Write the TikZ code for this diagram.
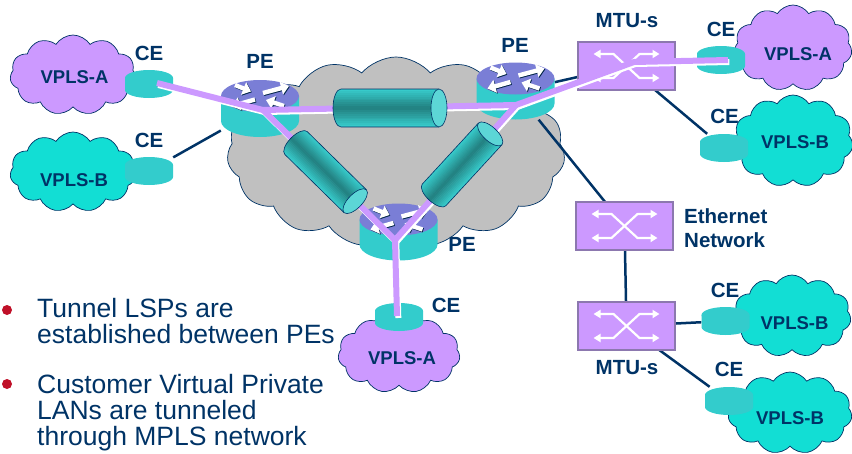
\documentclass[tikz,border=0pt]{standalone}
\usepackage{fontspec}
\setmainfont{Liberation Sans}
\usetikzlibrary{shapes.symbols,arrows.meta}

\definecolor{navy}{RGB}{0,51,102}
\definecolor{vplsA}{RGB}{204,153,255}
\definecolor{vplsB}{RGB}{18,222,212}
\definecolor{ceCyan}{RGB}{51,204,204}
\definecolor{peTop}{RGB}{122,126,214}
\definecolor{coreGray}{RGB}{192,192,192}
\definecolor{tunDark}{RGB}{34,128,128}
\definecolor{tunLight}{RGB}{56,206,206}
\definecolor{tunEnd}{RGB}{92,214,214}
\definecolor{swEdge}{RGB}{140,120,175}
\definecolor{bulletRed}{RGB}{192,16,40}

% flat cylinder used for customer edge devices
\newcommand\cedisk[1]{%
  \begin{scope}[shift={(#1.center)}]
    \fill[ceCyan] (-24,-6) -- (-24,6) arc (180:0:24 and 8) -- (24,-6) -- cycle;
    \fill[ceCyan] (0,-6) ellipse (24 and 8);
  \end{scope}}

% provider edge router: cylinder with four arrows on top
\newcommand\pedisk[1]{%
  \begin{scope}[shift={(#1.center)}]
    \fill[ceCyan] (-39,-12.5) -- (-39,12.5) arc (180:0:39 and 16) -- (39,-12.5) -- cycle;
    \fill[peTop] (0,-12.5) ellipse (39 and 16);
    \begin{scope}[shift={(0,-12.5)}]
      \foreach \s in {rtshadow,rtarrow}{
        \draw[\s] (-25,-11) -- (-9,-4.5);
        \draw[\s] (3,-3) -- (29,-10);
        \draw[\s] (-5,3.5) -- (-28,10);
        \draw[\s] (24,10) -- (6,4);
      }
    \end{scope}
  \end{scope}}

% crossing arrows of an Ethernet switch
\newcommand\swicon[1]{%
  \begin{scope}[shift={(#1.center)}]
    \draw[swarrow] (-33,-12) -- (-13,-12) -- (13,12) -- (33,12);
    \draw[swarrow] (-33,12) -- (-13,12) -- (13,-12) -- (33,-12);
  \end{scope}}

% LSP tunnel along the local x axis: #1 length, #2 radius, #3 end half-width
\newcommand\tunnel[3]{%
  \begin{scope}
    \clip (0,-#2) -- (#1,-#2) -- (#1,#2) -- (0,#2) arc (90:270:#3 and #2) -- cycle;
    \foreach \k in {0,...,19}{
      \pgfmathtruncatemacro\mixv{abs((\k+0.5)/10-1)*100}
      \fill[tunLight!\mixv!tunDark] ({-#3-1},{-#2+\k*#2/10}) rectangle ({#1+1},{-#2+(\k+1)*#2/10+0.4});
    }
  \end{scope}
  \draw[navy, line width=0.6pt] (#1,-#2) -- (0,-#2) arc (270:90:#3 and #2) -- (#1,#2);
  \fill[tunEnd, draw=navy, line width=0.6pt] (#1,0) ellipse (#3 and #2);}

\begin{document}
\begin{tikzpicture}[x=1pt,y=-1pt,
  cloudbase/.style={shape=cloud, cloud puffs=11, cloud puff arc=115, cloud ignores aspect,
    draw=navy, line width=0.7pt, inner sep=0pt},
  siteA/.style={cloudbase, fill=vplsA},
  siteB/.style={cloudbase, fill=vplsB},
  sitetext/.style={text=navy, font=\bfseries\fontsize{18.5}{20}\selectfont, inner sep=0pt},
  lbl/.style={text=navy, font=\bfseries\fontsize{20.5}{24}\selectfont, inner sep=0pt},
  cebox/.style={rectangle, minimum width=48pt, minimum height=28pt, inner sep=0pt},
  pebox/.style={rectangle, minimum width=78pt, minimum height=57pt, inner sep=0pt},
  swbox/.style={rectangle, fill=vplsA, draw=swEdge, line width=1.2pt,
    minimum width=97pt, minimum height=48pt, inner sep=0pt},
  rtarrow/.style={white, line width=4.4pt, -{Triangle[width=13pt,length=8pt]}},
  rtshadow/.style={rtarrow, navy!70!black, transform canvas={shift={(0.8pt,-0.8pt)}}},
  swarrow/.style={white, line width=2.2pt, line join=round,
    {Triangle[width=8pt,length=7pt]}-{Triangle[width=8pt,length=7pt]}},
  link/.style={navy, line width=2.5pt},
  pw/.style={vplsA, line width=6pt, line join=round},
  pwshade/.style={white, line width=6pt, line join=round,
    transform canvas={shift={(1.3pt,-2pt)}}},
  bodytext/.style={text=navy, font=\fontsize{26.5}{26}\selectfont, inner sep=0pt, anchor=base west}]

\useasboundingbox (0,0) rectangle (852,453);

% MPLS core
\node[cloudbase, fill=coreGray, cloud puffs=15, cloud puff arc=100,
      minimum width=338pt, minimum height=190pt] (core) at (396,152) {};

% customer sites
\node[siteA, minimum width=126pt, minimum height=80pt] (sA1) at (73,75) {};
\node[siteB, minimum width=126pt, minimum height=80pt] (sB1) at (73,172) {};
\node[siteA, minimum width=118pt, minimum height=86pt] (sA2) at (793,48) {};
\node[siteB, minimum width=120pt, minimum height=92pt] (sB2) at (793,141) {};
\node[siteB, minimum width=118pt, minimum height=82pt] (sB3) at (792,316) {};
\node[siteB, minimum width=124pt, minimum height=82pt] (sB4) at (790,413) {};
\node[siteA, minimum width=122pt, minimum height=78pt] (sA3) at (399,354) {};

\node[sitetext] (tA1) at (74.5,77) {VPLS-A};
\node[sitetext] (tB1) at (74,180) {VPLS-B};
\node[sitetext] (tA2) at (798,54) {VPLS-A};
\node[sitetext] (tB2) at (795,142) {VPLS-B};
\node[sitetext] (tB3) at (794.5,323.5) {VPLS-B};
\node[sitetext] (tB4) at (790,418.5) {VPLS-B};
\node[sitetext] (tA3) at (402,358.5) {VPLS-A};

% device placeholders
\node[cebox] (ce1) at (149,84) {};
\node[cebox] (ce2) at (149,171) {};
\node[cebox] (ce3) at (721,60) {};
\node[cebox] (ce4) at (724,148) {};
\node[cebox] (ce5) at (725.5,321) {};
\node[cebox] (ce6) at (729,401) {};
\node[cebox] (ce7) at (399,317) {};
\node[pebox] (pe1) at (260,108.5) {};
\node[pebox] (pe2) at (515.5,91) {};
\node[pebox] (pe3) at (398.5,232) {};

% physical links
\draw[link] (ce1) -- (pe1);
\draw[link] (ce2) -- (pe1);
\draw[link] (pe2) -- (626.5,66) coordinate (mtuA);
\draw[link] (mtuA) -- (ce4);
\draw[link] (pe2) -- (624.5,226) coordinate (ethA);
\draw[link] (ethA) -- (626.5,326) coordinate (mtuB);
\draw[link] (mtuB) -- (ce5);
\draw[link] (mtuB) -- (ce6);

% switches
\node[swbox] (mtu1) at (mtuA) {};
\node[swbox] (eth) at (ethA) {};
\node[swbox] (mtu2) at (mtuB) {};
\swicon{mtu1}
\swicon{eth}
\swicon{mtu2}

% edge devices
\cedisk{ce1} \cedisk{ce2} \cedisk{ce3} \cedisk{ce4}
\cedisk{ce5} \cedisk{ce6} \cedisk{ce7}
\pedisk{pe1} \pedisk{pe2} \pedisk{pe3}

% virtual LAN paths through the core
\coordinate (pw1) at (157,83);
\coordinate (j1) at (263,110);
\coordinate (j2) at (516,105);
\coordinate (j3) at (395,240);
\coordinate (k1) at (634,62);
\coordinate (pw3) at (728,60);
\coordinate (pw7) at (397,316);
\foreach \s in {pwshade,pw}{
  \draw[\s] (pw1) -- (j1) -- (j2) -- (k1) -- (pw3);
  \draw[\s] (j1) -- (j3) -- (pw7);
  \draw[\s] (j2) -- (j3);
}

% LSP tunnels between the PEs
\begin{scope}[shift={(341,108)}]
  \tunnel{98}{19}{8}
\end{scope}
\begin{scope}[shift={(296,143)}, rotate=-44.5]
  \tunnel{83}{16}{7}
\end{scope}
\begin{scope}[shift={(434,195)}, rotate=47.4]
  \tunnel{83}{16}{7}
\end{scope}

% device labels
\node[lbl] (lce1) at (149,53) {CE};
\node[lbl] (lce2) at (149,140) {CE};
\node[lbl] (lpe1) at (260,61.5) {PE};
\node[lbl] (lpe2) at (515,45.5) {PE};
\node[lbl] (lpe3) at (462,244) {PE};
\node[lbl] (lmtu1) at (627,21) {MTU-s};
\node[lbl] (lce3) at (721,29) {CE};
\node[lbl] (lce4) at (724.5,116) {CE};
\node[lbl, anchor=west, align=left] (leth) at (684,228) {Ethernet\\Network};
\node[lbl] (lmtu2) at (627,367.5) {MTU-s};
\node[lbl] (lce5) at (725,290) {CE};
\node[lbl] (lce6) at (729,369.5) {CE};
\node[lbl] (lce7) at (446,305.5) {CE};

% notes
\coordinate (b1) at (7,310);
\coordinate (b2) at (7,384);
\fill[bulletRed] (b1) circle [radius=5pt];
\fill[bulletRed] (b2) circle [radius=5pt];
\node[bodytext] (n1) at (37,317) {Tunnel LSPs are};
\node[bodytext] (n2) at (37,343) {established between PEs};
\node[bodytext] (n3) at (37,393) {Customer Virtual Private};
\node[bodytext] (n4) at (37,419) {LANs are tunneled};
\node[bodytext] (n5) at (37,445) {through MPLS network};
\end{tikzpicture}
\end{document}
